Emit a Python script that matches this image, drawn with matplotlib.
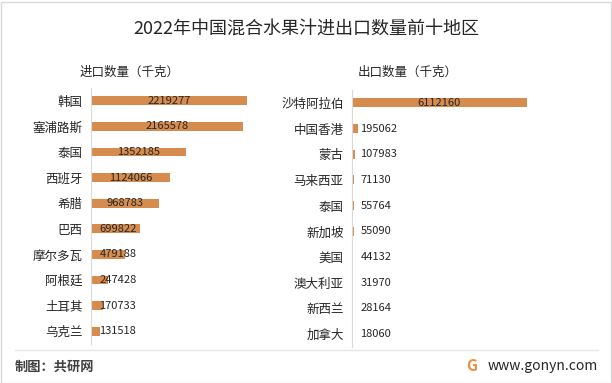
import matplotlib.pyplot as plt
from matplotlib.patches import Rectangle

plt.rcParams['font.family'] = ['Noto Sans CJK SC', 'DejaVu Sans']

# --- données ---
TITRE = "2022年中国混合水果汁进出口数量前十地区"
pays_import = ["韩国", "塞浦路斯", "泰国", "西班牙", "希腊", "巴西", "摩尔多瓦", "阿根廷", "土耳其", "乌克兰"]
val_import = [2219277, 2165578, 1352185, 1124066, 968783, 699822, 479188, 247428, 170733, 131518]
pays_export = ["沙特阿拉伯", "中国香港", "蒙古", "马来西亚", "泰国", "新加坡", "美国", "澳大利亚", "新西兰", "加拿大"]
val_export = [6112160, 195062, 107983, 71130, 55764, 55090, 44132, 31970, 28164, 18060]

W, H = 612, 383
COULEUR = "#D68C4F"
GRIS = "#D9D9D9"
TEXTE = "#262626"

fig = plt.figure(figsize=(W / 100, H / 100), dpi=100)
fig.patch.set_facecolor("white")


def px_box(x0, x1, y_top, y_bot):
    return [x0 / W, 1 - y_bot / H, (x1 - x0) / W, (y_bot - y_top) / H]


def panneau(rect, noms, valeurs, xmax):
    ax = fig.add_axes(rect)
    y = list(range(len(noms)))
    ax.barh(y, valeurs, height=0.35, color=COULEUR)
    ax.set_xlim(0, xmax)
    ax.set_ylim(len(noms) - 0.5, -0.5)
    ax.set_yticks(y)
    ax.set_yticklabels(noms, fontsize=9, color=TEXTE)
    ax.tick_params(axis="y", length=0, pad=6)
    ax.set_xticks([])
    for s in ["top", "right", "bottom"]:
        ax.spines[s].set_visible(False)
    ax.spines["left"].set_color(GRIS)
    ax.patch.set_alpha(0)

    ppu = rect[2] * W / xmax  # pixels par unité
    for yi, v in zip(y, valeurs):
        demi = 3.0 * len(str(v))
        centre_px = v / 2 * ppu
        if centre_px - demi >= 8:
            ax.text(v / 2, yi, str(v), ha="center", va="center", fontsize=8, color=TEXTE)
        else:
            # décalage ~8 px depuis l'axe
            ax.annotate(str(v), (0, yi), xytext=(6, 0), textcoords="offset points",
                        ha="left", va="center", fontsize=8, color=TEXTE)
    return ax


panneau(px_box(91, 274, 88, 344), pays_import, val_import, 2.6e6)
panneau(px_box(352, 552, 90, 347), pays_export, val_export, 7.0e6)

# titres
fig.text(306 / W, 1 - 30 / H, TITRE, ha="center", va="center", fontsize=13, color=TEXTE)
fig.text(80 / W, 1 - 72 / H, "进口数量（千克）", ha="left", va="center", fontsize=9, color=TEXTE)
fig.text(358 / W, 1 - 72 / H, "出口数量（千克）", ha="left", va="center", fontsize=9, color=TEXTE)

# cadre et pied de page
fig.add_artist(Rectangle((0.5 / W, 0.5 / H), (W - 2) / W, (H - 2) / H, transform=fig.transFigure,
                         fill=False, edgecolor=GRIS, linewidth=1))
fig.add_artist(plt.Line2D([15 / W, 598 / W], [1 - 350 / H, 1 - 350 / H], color="#E6E6E6", linewidth=1))
fig.text(15 / W, 1 - 367 / H, "制图：共研网", ha="left", va="center", fontsize=9.5,
         fontweight="bold", color="#404040")
fig.text(472 / W, 1 - 366 / H, "G", ha="center", va="center", fontsize=11, fontweight="bold",
         color="#F08A3C")
fig.text(598 / W, 1 - 366 / H, "www.gonyn.com", ha="right", va="center", fontsize=10, color="#262626")

fig.savefig("out.png", dpi=100)
